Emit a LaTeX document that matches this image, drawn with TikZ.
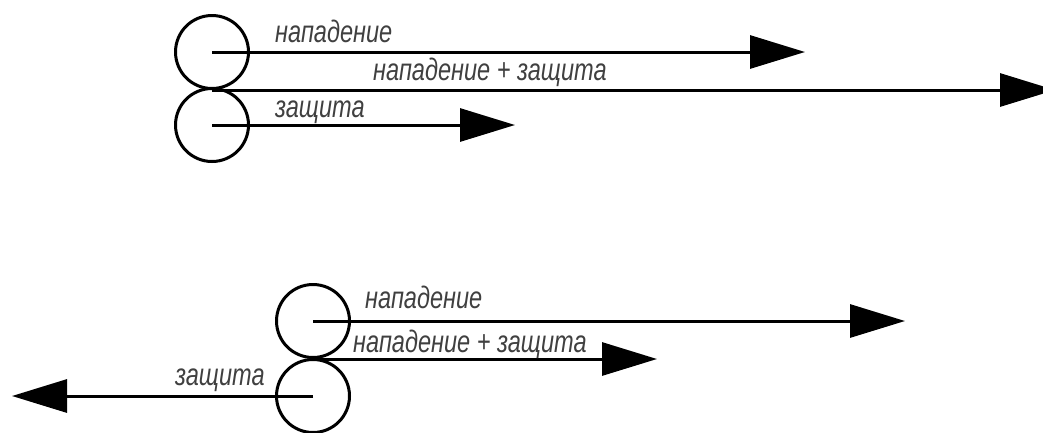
\documentclass[tikz,border=0pt]{standalone}
\usepackage{fontspec}
\newfontfamily\gost{Liberation Sans}[FakeStretch=0.76]
\usetikzlibrary{arrows.meta}

\begin{document}
\begin{tikzpicture}[x=1pt, y=-1pt,
	main/.style = {draw, circle, line width=3pt, minimum size=73pt, inner sep=0pt},
	lbl/.style = {anchor=base west, inner sep=0pt, text=black!75,
		font=\gost\itshape\fontsize{31}{31}\selectfont},
	arr/.style = {line width=3pt, -{Triangle[length=55pt, width=33pt]}}]
	\useasboundingbox (0,0) rectangle (1043,432);
	% top: both forward
	\node[main] (a) at (212,52) {};
	\node[main] (b) at (212,125) {};
	\coordinate (a1) at (805,52);
	\coordinate (s1) at (1055,0);
	\coordinate (b1) at (515,125);
	\draw[arr] (a.center) -- (a1);
	\draw[arr] (a.south) -- (a.south -| s1);
	\draw[arr] (b.center) -- (b1);
	\node[lbl] (ta) at (275,42) {нападение};
	\node[lbl] (ts) at (373,80) {нападение + защита};
	\node[lbl] (td) at (275,117) {защита};
	% bottom: defence backwards
	\node[main] (c) at (313,321) {};
	\node[main] (d) at (313,396) {};
	\coordinate (c1) at (905,321);
	\coordinate (s2) at (657,0);
	\coordinate (d1) at (12,396);
	\draw[arr] (c.center) -- (c1);
	\draw[arr] (c.south) -- (c.south -| s2);
	\draw[arr] (d.center) -- (d1);
	\node[lbl] (ba) at (365,308) {нападение};
	\node[lbl] (bs) at (353,352) {нападение + защита};
	\node[lbl] (bd) at (175,385) {защита};
\end{tikzpicture}
\end{document}
